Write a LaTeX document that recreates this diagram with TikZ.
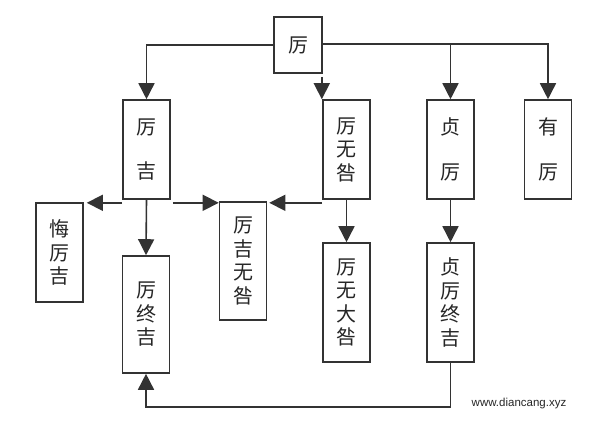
\documentclass[tikz,border=0pt]{standalone}
\usepackage{fontspec}
\newfontfamily\cjk{Noto Sans CJK SC}
\setsansfont{Liberation Sans}
\usetikzlibrary{arrows.meta}
\begin{document}
\begin{tikzpicture}[x=1pt,y=-1pt,
  box/.style={draw=black!80,line width=1.6pt,inner sep=0pt,align=center,
    font=\cjk\fontsize{20}{23.5}\selectfont,text=black!85},
  tall/.style={minimum width=47pt,minimum height=#1},
  arr/.style={draw=black!80,line width=1.6pt,-{Triangle[length=16pt,width=16pt]}},
  ln/.style={draw=black!80,line width=1.6pt}]
\useasboundingbox (0,0) rectangle (596,424);
\fill[white] (0,0) rectangle (596,424);
% boxes
\node[box,minimum width=48pt,minimum height=56pt] (top) at (298,45) {厉};
\node[box,tall=99pt] (A) at (146.5,149.5) {厉\\[21pt]吉};
\node[box,tall=99pt] (B) at (346.5,149.5) {厉\\无\\咎};
\node[box,tall=99pt] (C) at (450.5,149.5) {贞\\[21pt]厉};
\node[box,tall=99pt] (D) at (548,149.5) {有\\[21pt]厉};
\node[box,tall=99pt] (E) at (59.5,252.5) {悔\\厉\\吉};
\node[box,tall=118pt] (F) at (243,261) {厉\\吉\\无\\咎};
\node[box,tall=117pt] (G) at (146,314.5) {厉\\终\\吉};
\node[box,tall=119pt] (H) at (346.5,302.5) {厉\\无\\大\\咎};
\node[box,tall=119pt] (I) at (450.5,302.5) {贞\\厉\\终\\吉};
% connectors from top
\coordinate (tE) at ([yshift=1pt]top.east);
\draw[arr] (top.west) -| (A.north);
\draw[arr] (tE) -| (D.north);
\draw[arr] (C.north |- tE) -- (C.north);
\coordinate (tb) at ([xshift=-1pt,yshift=-3pt]top.south east);
\draw[arr] (tb) -- (tb |- B.north);
% row 2 connectors
\coordinate (aw) at ([yshift=-3pt]A.south west);
\draw[arr,shorten >=3pt] (aw) -- (E.east |- aw);
\coordinate (ae) at ([xshift=2pt,yshift=-3pt]A.south east);
\draw[arr] (ae) -- (F.west |- ae);
\coordinate (bw) at ([yshift=-3pt]B.south west);
\draw[arr,shorten >=2pt] (bw) -- (F.east |- bw);
\draw[arr] (A.south) -- (G.north);
\draw[arr] (B.south) -- (H.north);
\draw[arr] (C.south) -- (I.north);
% feedback
\draw[arr] (I.south) -- ++(0,44) -| (G.south);
% watermark
\node[font=\sffamily\fontsize{11.5}{13}\selectfont,text=black!85] (wm) at (519,404) {www.diancang.xyz};
\end{tikzpicture}
\end{document}
